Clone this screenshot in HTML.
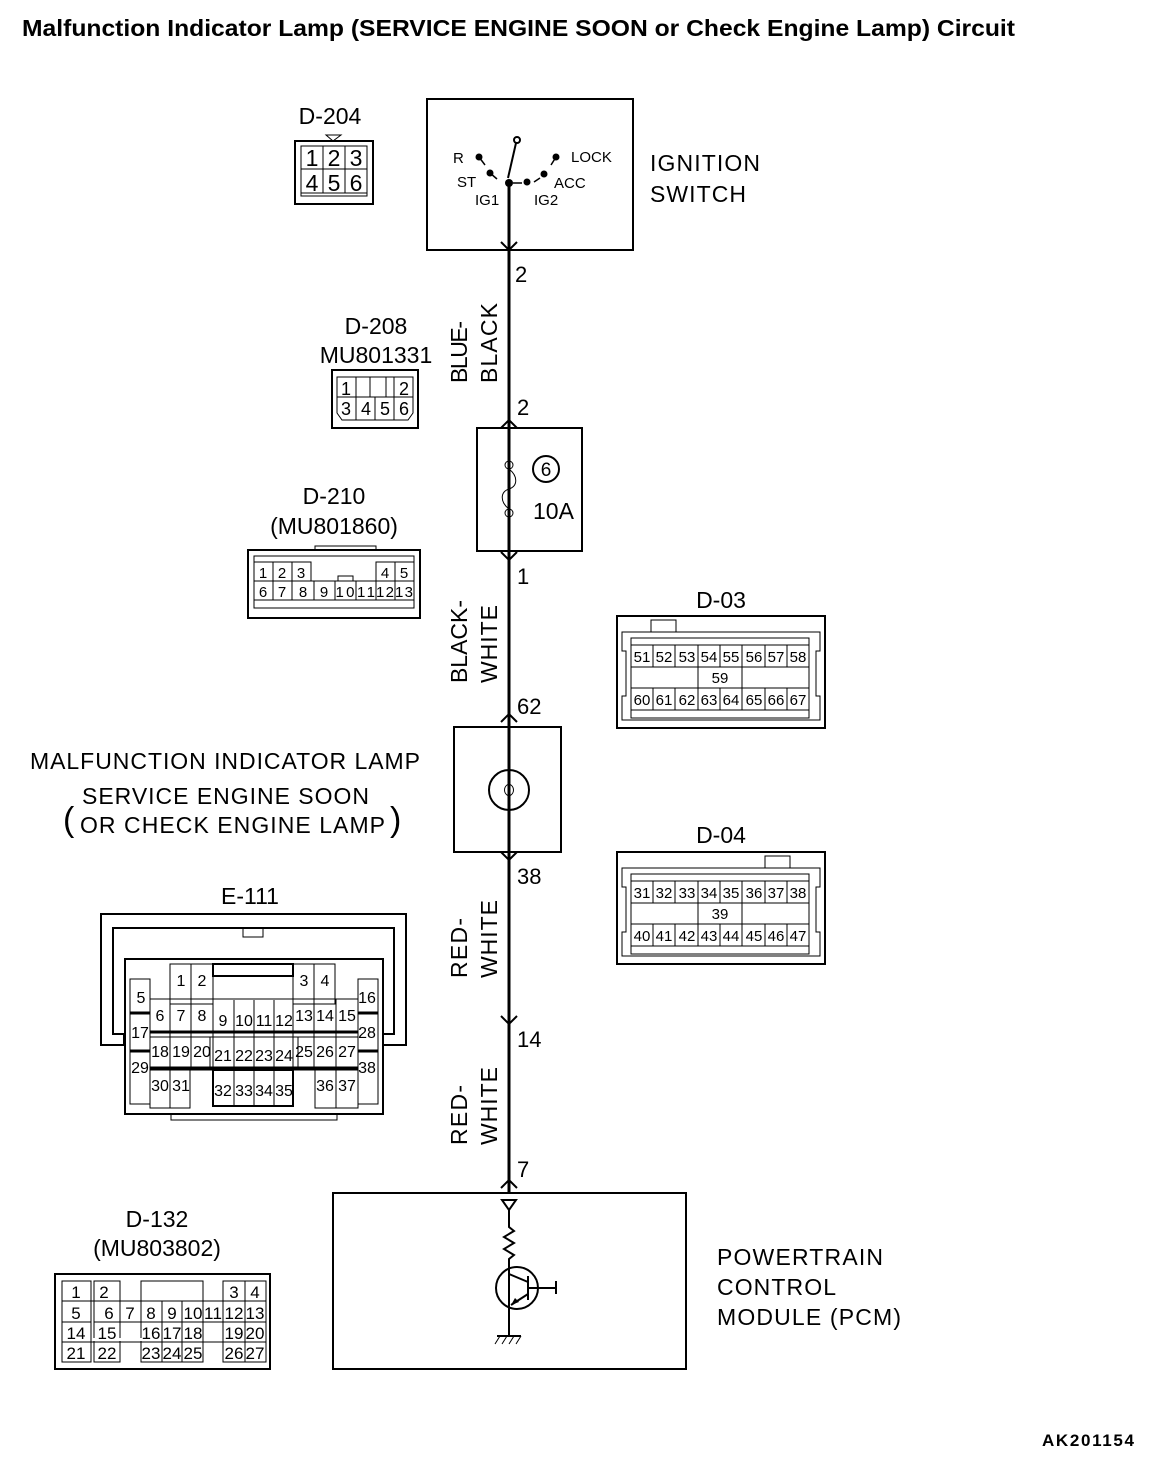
<!DOCTYPE html>
<html><head><meta charset="utf-8"><style>
html,body{margin:0;padding:0;background:#fff}
svg{display:block}
text{font-family:"Liberation Sans",Arial,sans-serif;fill:#000}
.c{font-size:15px;text-anchor:middle}
.l{font-size:23px}
.b{fill:none;stroke:#000;stroke-width:2}
.t{fill:none;stroke:#000;stroke-width:1}
</style></head><body>
<svg width="1152" height="1460" viewBox="0 0 1152 1460" xmlns="http://www.w3.org/2000/svg">
<text x="22" y="36" style="font-size:23px;font-weight:bold" textLength="993" lengthAdjust="spacingAndGlyphs">Malfunction Indicator Lamp (SERVICE ENGINE SOON or Check Engine Lamp) Circuit</text>

<!-- main wire -->
<line x1="509" y1="180" x2="509" y2="1193" stroke="#000" stroke-width="3"/>
<g class="b">
<polyline points="501,242 509,250 517,242"/>
<polyline points="501,428 509,420 517,428"/>
<polyline points="501,552 509,560 517,552"/>
<polyline points="501,722 509,714 517,722"/>
<polyline points="501,852 509,860 517,852"/>
<polyline points="501,1016 509,1024 517,1016"/>
<polyline points="501,1188 509,1180 517,1188"/>
</g>

<!-- ignition switch -->
<rect x="427" y="99" width="206" height="151" class="b"/>
<circle cx="517" cy="140" r="3" class="b" stroke-width="1.5"/>
<line x1="516" y1="143" x2="508" y2="178" stroke="#000" stroke-width="2"/>
<circle cx="509" cy="183" r="4"/>
<circle cx="479" cy="157" r="3.5"/><line x1="479" y1="157" x2="485" y2="165" stroke="#000" stroke-width="1.5"/>
<circle cx="490" cy="173" r="3.5"/><line x1="490" y1="173" x2="497" y2="179" stroke="#000" stroke-width="1.5"/>
<line x1="513" y1="183" x2="522" y2="183" stroke="#000" stroke-width="1.5"/>
<circle cx="527" cy="182" r="3.5"/>
<circle cx="544" cy="174" r="3.5"/><line x1="540" y1="178" x2="534" y2="182" stroke="#000" stroke-width="1.5"/>
<circle cx="556" cy="157" r="3.5"/><line x1="556" y1="157" x2="551" y2="165" stroke="#000" stroke-width="1.5"/>
<text x="453" y="163" style="font-size:15px">R</text>
<text x="457" y="187" style="font-size:15px">ST</text>
<text x="475" y="205" style="font-size:15px">IG1</text>
<text x="534" y="205" style="font-size:15px">IG2</text>
<text x="554" y="188" style="font-size:15px">ACC</text>
<text x="571" y="162" style="font-size:15px">LOCK</text>
<text x="650" y="171" class="l" textLength="110">IGNITION</text>
<text x="650" y="202" class="l" textLength="96">SWITCH</text>

<g style="font-size:22px">
<text x="515" y="282">2</text>
<text x="517" y="415">2</text>
<text x="517" y="584">1</text>
<text x="517" y="714">62</text>
<text x="517" y="884">38</text>
<text x="517" y="1047">14</text>
<text x="517" y="1177">7</text>
</g>

<g class="l">
<text transform="translate(467,383) rotate(-90)" textLength="62">BLUE-</text>
<text transform="translate(497,383) rotate(-90)" textLength="80">BLACK</text>
<text transform="translate(467,683) rotate(-90)" textLength="83">BLACK-</text>
<text transform="translate(497,683) rotate(-90)" textLength="78">WHITE</text>
<text transform="translate(467,978) rotate(-90)" textLength="60">RED-</text>
<text transform="translate(497,978) rotate(-90)" textLength="78">WHITE</text>
<text transform="translate(467,1145) rotate(-90)" textLength="60">RED-</text>
<text transform="translate(497,1145) rotate(-90)" textLength="78">WHITE</text>
</g>

<!-- fuse -->
<rect x="477" y="428" width="105" height="123" fill="#fff" class="b"/>
<line x1="509" y1="428" x2="509" y2="461" stroke="#000" stroke-width="3"/>
<line x1="509" y1="517" x2="509" y2="551" stroke="#000" stroke-width="3"/>
<circle cx="509" cy="465" r="4" class="t" stroke-width="1.5"/>
<circle cx="509" cy="513" r="4" class="t" stroke-width="1.5"/>
<path d="M509,469 C518,476 518,486 509,489 C500,492 500,502 509,509" class="t" stroke-width="1.5"/>
<circle cx="546" cy="469" r="13" class="b"/>
<text x="546" y="476" text-anchor="middle" style="font-size:19px">6</text>
<text x="533" y="519" class="l">10A</text>

<!-- MIL -->
<rect x="454" y="727" width="107" height="125" fill="#fff" class="b"/>
<line x1="509" y1="727" x2="509" y2="852" stroke="#000" stroke-width="3"/>
<circle cx="509" cy="790" r="20" fill="#fff" class="b"/>
<path d="M509,770 L509,784 M509,796 L509,810" class="b"/>
<path d="M509,784 C503,786 503,794 509,796 C515,794 515,786 509,784" class="t" stroke-width="1.5"/>
<text x="30" y="769" class="l" textLength="390">MALFUNCTION INDICATOR LAMP</text>
<text x="82" y="804" class="l" textLength="287">SERVICE ENGINE SOON</text>
<text x="80" y="833" class="l" textLength="305">OR CHECK ENGINE LAMP</text>
<text x="63" y="831" style="font-size:34px">(</text>
<text x="390" y="831" style="font-size:34px">)</text>

<!-- PCM -->
<rect x="333" y="1193" width="353" height="176" fill="#fff" class="b"/>
<polygon points="502,1200 516,1200 509,1210" class="b" stroke-width="1.5"/>
<polyline points="509,1210 509,1227 514,1231 504,1237 514,1243 504,1249 514,1255 509,1259 509,1268" class="b" stroke-width="1.5"/>
<circle cx="517" cy="1288" r="21" class="b"/>
<polyline points="509,1268 509,1308" class="b"/>
<line x1="509" y1="1274" x2="528" y2="1282" stroke="#000" stroke-width="2"/>
<line x1="528" y1="1276" x2="528" y2="1300" stroke="#000" stroke-width="2"/>
<line x1="528" y1="1294" x2="511" y2="1305" stroke="#000" stroke-width="2"/>
<polygon points="511,1305 515,1298 519,1302" />
<line x1="528" y1="1288" x2="556" y2="1288" stroke="#000" stroke-width="2"/>
<line x1="556" y1="1281" x2="556" y2="1294" stroke="#000" stroke-width="2"/>
<line x1="509" y1="1308" x2="509" y2="1336" stroke="#000" stroke-width="2"/>
<line x1="497" y1="1336" x2="521" y2="1336" stroke="#000" stroke-width="2"/>
<path d="M500,1336 l-5,8 M507,1336 l-5,8 M514,1336 l-5,8 M521,1336 l-5,8" class="t" stroke-width="1.5"/>
<text x="717" y="1265" class="l" textLength="166">POWERTRAIN</text>
<text x="717" y="1295" class="l" textLength="119">CONTROL</text>
<text x="717" y="1325" class="l" textLength="184">MODULE (PCM)</text>

<text x="1042" y="1446" style="font-size:17px;font-weight:bold" textLength="92">AK201154</text>

<!-- D-204 -->
<text x="330" y="124" class="l" text-anchor="middle">D-204</text>
<polygon points="326,135 341,135 333,141" class="t" stroke-width="1.5"/>
<rect x="295" y="141" width="78" height="63" class="b"/>
<rect x="301" y="146" width="66" height="50" class="t"/>
<g class="t"><line x1="301" y1="169" x2="367" y2="169"/><line x1="323" y1="146" x2="323" y2="193"/><line x1="345" y1="146" x2="345" y2="193"/><line x1="301" y1="193" x2="367" y2="193"/></g>
<g style="font-size:23px" text-anchor="middle"><text x="312" y="166">1</text><text x="334" y="166">2</text><text x="356" y="166">3</text><text x="312" y="191">4</text><text x="334" y="191">5</text><text x="356" y="191">6</text></g>

<!-- D-208 -->
<text x="376" y="334" class="l" text-anchor="middle">D-208</text>
<text x="376" y="363" class="l" text-anchor="middle">MU801331</text>
<rect x="332" y="370" width="86" height="58" class="b"/>
<path d="M337,377 H413 V413 L408,420 H342 L337,413 Z" class="t"/>
<g class="t"><line x1="337" y1="397" x2="413" y2="397"/><line x1="356" y1="377" x2="356" y2="420"/><line x1="375" y1="397" x2="375" y2="420"/><line x1="394" y1="377" x2="394" y2="420"/><rect x="370" y="377" width="16" height="20"/></g>
<g style="font-size:18px" text-anchor="middle"><text x="346" y="395">1</text><text x="404" y="395">2</text><text x="346" y="415">3</text><text x="366" y="415">4</text><text x="385" y="415">5</text><text x="404" y="415">6</text></g>

<!-- D-210 -->
<text x="334" y="504" class="l" text-anchor="middle">D-210</text>
<text x="334" y="534" class="l" text-anchor="middle">(MU801860)</text>
<rect x="248" y="550" width="172" height="68" class="b"/>
<rect x="315" y="546" width="61" height="4" class="t"/>
<rect x="254" y="556" width="160" height="52" class="t"/>
<g class="t">
<rect x="254" y="562" width="57" height="19"/><line x1="273" y1="562" x2="273" y2="581"/><line x1="292" y1="562" x2="292" y2="581"/>
<rect x="376" y="562" width="38" height="19"/><line x1="395" y1="562" x2="395" y2="581"/>
<rect x="254" y="581" width="160" height="19"/>
<line x1="273" y1="581" x2="273" y2="600"/><line x1="292" y1="581" x2="292" y2="600"/><line x1="314" y1="581" x2="314" y2="600"/><line x1="335" y1="581" x2="335" y2="600"/><line x1="356" y1="581" x2="356" y2="600"/><line x1="376" y1="581" x2="376" y2="600"/><line x1="395" y1="581" x2="395" y2="600"/>
<rect x="338" y="576" width="15" height="5"/>
</g>
<g class="c"><text x="263" y="578">1</text><text x="282" y="578">2</text><text x="301" y="578">3</text><text x="385" y="578">4</text><text x="404" y="578">5</text>
<text x="263" y="597">6</text><text x="282" y="597">7</text><text x="303" y="597">8</text><text x="324" y="597">9</text><text x="345" y="597" textLength="19">10</text><text x="366" y="597" textLength="18">11</text><text x="385" y="597" textLength="18">12</text><text x="404" y="597" textLength="18">13</text></g>

<!-- D-03 -->
<text x="721" y="608" class="l" text-anchor="middle">D-03</text>
<rect x="617" y="616" width="208" height="112" class="b"/>
<rect x="651" y="620" width="25" height="12" class="t"/>
<path d="M622,632 H820 V651 H816 V696 H820 V720 H622 V696 H626 V651 H622 Z" class="t"/>
<path d="M631,638 H809 V718 H631 Z" class="t" stroke-width="2"/>
<g class="t"><line x1="631" y1="667" x2="809" y2="667"/><line x1="631" y1="688" x2="809" y2="688"/>
<line x1="653" y1="645" x2="653" y2="667"/><line x1="675" y1="645" x2="675" y2="667"/><line x1="698" y1="645" x2="698" y2="710"/><line x1="720" y1="645" x2="720" y2="667"/><line x1="742" y1="645" x2="742" y2="710"/><line x1="765" y1="645" x2="765" y2="667"/><line x1="787" y1="645" x2="787" y2="667"/>
<line x1="653" y1="688" x2="653" y2="710"/><line x1="675" y1="688" x2="675" y2="710"/><line x1="720" y1="688" x2="720" y2="710"/><line x1="765" y1="688" x2="765" y2="710"/><line x1="787" y1="688" x2="787" y2="710"/>
<line x1="631" y1="645" x2="809" y2="645"/><line x1="631" y1="710" x2="809" y2="710"/></g>
<g class="c"><text x="642" y="662">51</text><text x="664" y="662">52</text><text x="687" y="662">53</text><text x="709" y="662">54</text><text x="731" y="662">55</text><text x="754" y="662">56</text><text x="776" y="662">57</text><text x="798" y="662">58</text>
<text x="720" y="683">59</text>
<text x="642" y="705">60</text><text x="664" y="705">61</text><text x="687" y="705">62</text><text x="709" y="705">63</text><text x="731" y="705">64</text><text x="754" y="705">65</text><text x="776" y="705">66</text><text x="798" y="705">67</text></g>

<!-- D-04 -->
<text x="721" y="843" class="l" text-anchor="middle">D-04</text>
<rect x="617" y="852" width="208" height="112" class="b"/>
<rect x="765" y="856" width="25" height="12" class="t"/>
<path d="M622,868 H820 V887 H816 V932 H820 V956 H622 V932 H626 V887 H622 Z" class="t"/>
<path d="M631,874 H809 V954 H631 Z" class="t" stroke-width="2"/>
<g class="t"><line x1="631" y1="903" x2="809" y2="903"/><line x1="631" y1="924" x2="809" y2="924"/>
<line x1="653" y1="881" x2="653" y2="903"/><line x1="675" y1="881" x2="675" y2="903"/><line x1="698" y1="881" x2="698" y2="946"/><line x1="720" y1="881" x2="720" y2="903"/><line x1="742" y1="881" x2="742" y2="946"/><line x1="765" y1="881" x2="765" y2="903"/><line x1="787" y1="881" x2="787" y2="903"/>
<line x1="653" y1="924" x2="653" y2="946"/><line x1="675" y1="924" x2="675" y2="946"/><line x1="720" y1="924" x2="720" y2="946"/><line x1="765" y1="924" x2="765" y2="946"/><line x1="787" y1="924" x2="787" y2="946"/>
<line x1="631" y1="881" x2="809" y2="881"/><line x1="631" y1="946" x2="809" y2="946"/></g>
<g class="c"><text x="642" y="898">31</text><text x="664" y="898">32</text><text x="687" y="898">33</text><text x="709" y="898">34</text><text x="731" y="898">35</text><text x="754" y="898">36</text><text x="776" y="898">37</text><text x="798" y="898">38</text>
<text x="720" y="919">39</text>
<text x="642" y="941">40</text><text x="664" y="941">41</text><text x="687" y="941">42</text><text x="709" y="941">43</text><text x="731" y="941">44</text><text x="754" y="941">45</text><text x="776" y="941">46</text><text x="798" y="941">47</text></g>

<!-- E-111 -->
<text x="250" y="904" class="l" text-anchor="middle">E-111</text>
<path d="M101,1045 V914 H406 V1045 H383 V1034 H394 V928 H113 V1034 H124 V1045 Z" class="b"/>
<rect x="243" y="928" width="20" height="9" class="t" stroke-width="2"/>
<rect x="125" y="959" width="258" height="155" class="b"/>
<rect x="171" y="1114" width="166" height="6" class="t" stroke-width="1.5"/>
<g class="t">
<rect x="170" y="964" width="43" height="40"/><line x1="191" y1="964" x2="191" y2="1004"/>
<rect x="213" y="964" width="80" height="12" stroke-width="2"/>
<rect x="293" y="964" width="42" height="40"/><line x1="314" y1="964" x2="314" y2="1004"/>
<rect x="130" y="979" width="20" height="125"/>
<rect x="358" y="979" width="20" height="125"/>
<rect x="150" y="999" width="208" height="38"/>
<line x1="150" y1="1032" x2="358" y2="1032" stroke-width="3"/>
<line x1="130" y1="1013" x2="150" y2="1013" stroke-width="3"/><line x1="358" y1="1013" x2="378" y2="1013" stroke-width="3"/>
<line x1="130" y1="1051" x2="150" y2="1051" stroke-width="3"/><line x1="358" y1="1051" x2="378" y2="1051" stroke-width="3"/>
<rect x="150" y="1037" width="60" height="33"/>
<rect x="210" y="1037" width="88" height="33"/>
<rect x="298" y="1037" width="60" height="33"/>
<line x1="150" y1="1068" x2="358" y2="1068" stroke-width="3"/>
<rect x="150" y="1070" width="40" height="38"/><line x1="170" y1="1070" x2="170" y2="1108"/>
<rect x="213" y="1070" width="80" height="36" stroke-width="2"/>
<rect x="315" y="1070" width="43" height="38"/><line x1="336" y1="1070" x2="336" y2="1108"/>
<line x1="170" y1="999" x2="170" y2="1070"/><line x1="191" y1="999" x2="191" y2="1070"/><line x1="213" y1="999" x2="213" y2="1070"/><line x1="234" y1="1000" x2="234" y2="1106"/><line x1="254" y1="1000" x2="254" y2="1106"/><line x1="274" y1="1000" x2="274" y2="1106"/><line x1="293" y1="999" x2="293" y2="1070"/><line x1="314" y1="999" x2="314" y2="1070"/><line x1="336" y1="999" x2="336" y2="1070"/>
</g>
<g class="c" style="font-size:16px">
<text x="181" y="986">1</text><text x="202" y="986">2</text><text x="304" y="986">3</text><text x="325" y="986">4</text>
<text x="141" y="1003">5</text><text x="367" y="1003">16</text>
<text x="160" y="1021">6</text><text x="181" y="1021">7</text><text x="202" y="1021">8</text><text x="223" y="1026">9</text><text x="244" y="1026">10</text><text x="264" y="1026">11</text><text x="284" y="1026">12</text><text x="304" y="1021">13</text><text x="325" y="1021">14</text><text x="347" y="1021">15</text>
<text x="140" y="1038">17</text><text x="367" y="1038">28</text>
<text x="160" y="1057">18</text><text x="181" y="1057">19</text><text x="202" y="1057">20</text><text x="223" y="1061">21</text><text x="244" y="1061">22</text><text x="264" y="1061">23</text><text x="284" y="1061">24</text><text x="304" y="1057">25</text><text x="325" y="1057">26</text><text x="347" y="1057">27</text>
<text x="140" y="1073">29</text><text x="367" y="1073">38</text>
<text x="160" y="1091">30</text><text x="181" y="1091">31</text><text x="223" y="1096">32</text><text x="244" y="1096">33</text><text x="264" y="1096">34</text><text x="284" y="1096">35</text><text x="325" y="1091">36</text><text x="347" y="1091">37</text>
</g>

<!-- D-132 -->
<text x="157" y="1227" class="l" text-anchor="middle">D-132</text>
<text x="157" y="1256" class="l" text-anchor="middle">(MU803802)</text>
<rect x="55" y="1274" width="215" height="95" class="b"/>
<g class="t" stroke-width="1.5">
<rect x="62" y="1281" width="29" height="81"/>
<rect x="94" y="1281" width="26" height="81"/>
<rect x="141" y="1281" width="62" height="81"/>
<rect x="223" y="1281" width="43" height="81"/>
<line x1="62" y1="1301" x2="266" y2="1301"/><line x1="62" y1="1322" x2="91" y2="1322"/><line x1="94" y1="1322" x2="120" y2="1322"/><line x1="141" y1="1322" x2="203" y2="1322"/><line x1="223" y1="1322" x2="266" y2="1322"/>
<line x1="62" y1="1342" x2="266" y2="1342"/>
<line x1="120" y1="1301" x2="223" y2="1301"/><line x1="120" y1="1322" x2="223" y2="1322"/>
<line x1="141" y1="1301" x2="141" y2="1322"/><line x1="162" y1="1301" x2="162" y2="1362"/><line x1="182" y1="1301" x2="182" y2="1362"/><line x1="203" y1="1301" x2="203" y2="1322"/><line x1="245" y1="1281" x2="245" y2="1362"/>
</g>
<rect x="92" y="1338" width="50" height="3" fill="#fff"/><rect x="204" y="1338" width="18" height="3" fill="#fff"/>
<g class="c" style="font-size:17px">
<text x="76" y="1298">1</text><text x="104" y="1298">2</text><text x="234" y="1298">3</text><text x="255" y="1298">4</text>
<text x="76" y="1319">5</text><text x="109" y="1319">6</text><text x="130" y="1319">7</text><text x="151" y="1319">8</text><text x="172" y="1319">9</text><text x="193" y="1319" textLength="19">10</text><text x="213" y="1319" textLength="18">11</text><text x="234" y="1319" textLength="19">12</text><text x="255" y="1319" textLength="19">13</text>
<text x="76" y="1339">14</text><text x="107" y="1339" textLength="19">15</text><text x="151" y="1339" textLength="19">16</text><text x="172" y="1339" textLength="19">17</text><text x="193" y="1339" textLength="19">18</text><text x="234" y="1339" textLength="19">19</text><text x="255" y="1339" textLength="19">20</text>
<text x="76" y="1359">21</text><text x="107" y="1359" textLength="19">22</text><text x="151" y="1359" textLength="19">23</text><text x="172" y="1359" textLength="19">24</text><text x="193" y="1359" textLength="19">25</text><text x="234" y="1359" textLength="19">26</text><text x="255" y="1359" textLength="19">27</text>
</g>
</svg>
</body></html>
